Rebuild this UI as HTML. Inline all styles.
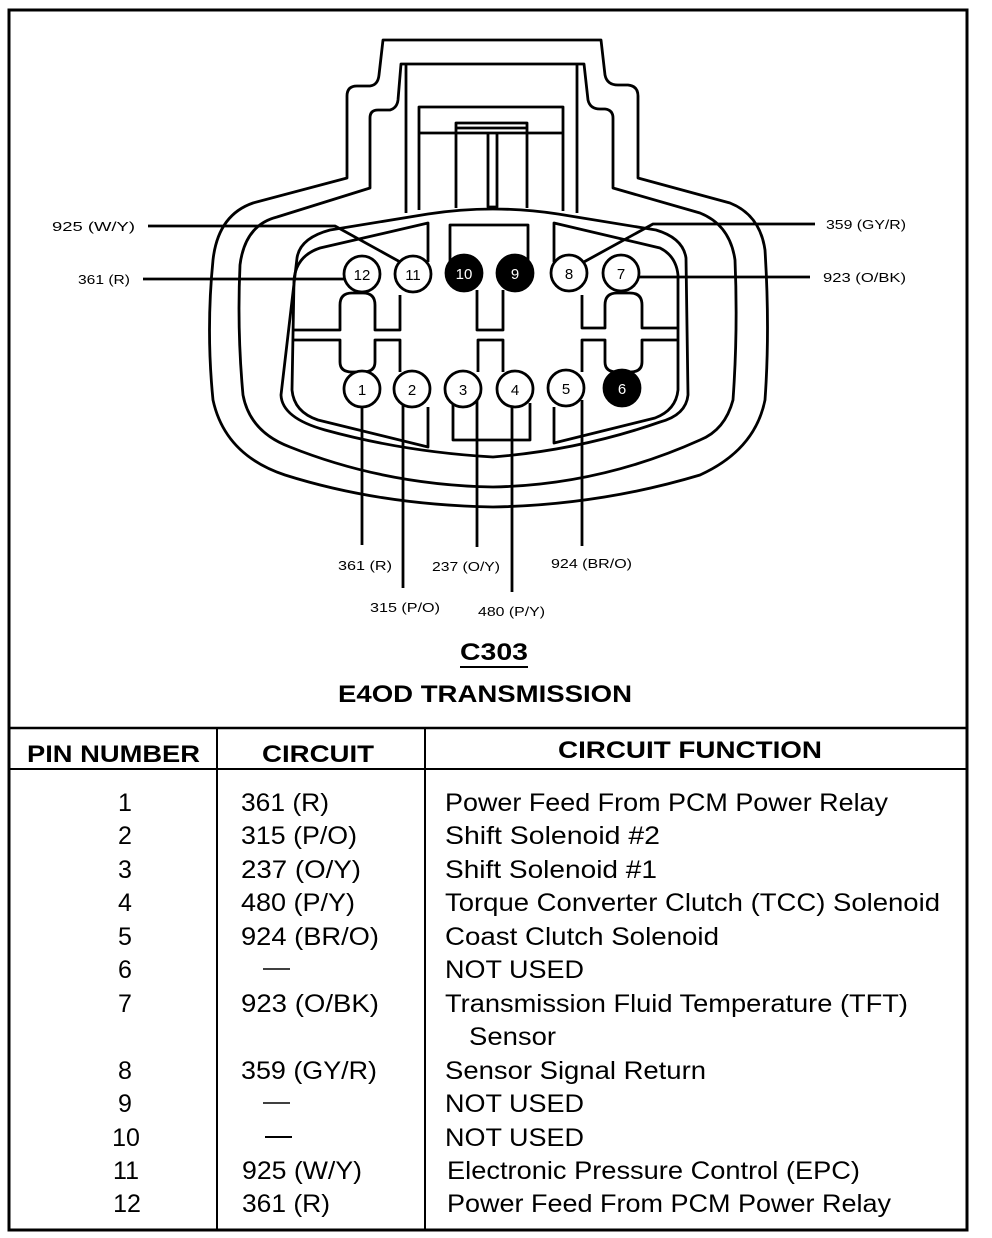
<!DOCTYPE html>
<html><head><meta charset="utf-8"><style>
html,body{margin:0;padding:0;background:#fff;}
svg{display:block;}
text{font-family:"Liberation Sans",sans-serif;fill:#000;}
</style></head><body>
<svg width="992" height="1238" viewBox="0 0 992 1238" xmlns="http://www.w3.org/2000/svg">
<rect x="0" y="0" width="992" height="1238" fill="#fff"/>
<rect x="9" y="10" width="958" height="1220" fill="none" stroke="#000" stroke-width="3"/>
<line x1="9" y1="728" x2="967" y2="728" stroke="#000" stroke-width="2.5"/>
<line x1="9" y1="769" x2="967" y2="769" stroke="#000" stroke-width="2"/>
<line x1="217" y1="728" x2="217" y2="1230" stroke="#000" stroke-width="2"/>
<line x1="425" y1="728" x2="425" y2="1230" stroke="#000" stroke-width="2"/>

<g fill="none" stroke="#000" stroke-width="2.8" stroke-linejoin="round">
<path d="M383,40 H601 L605,75 Q607,85 618,85 L628,85 Q638,86 638,96 L638,178 L730,203 Q760,215 765,250 Q770,330 765,400 Q755,450 700,475 Q600,505 493,507 Q380,505 285,475 Q225,455 213,400 Q206,330 213,260 Q218,215 253,203 L347,178 L347,96 Q347,86 357,86 L370,86 Q378,85 379,75 Z"/>
<path d="M401,64 H584 L588,100 Q590,109 600,109 L605,109 Q613,110 613,118 L613,188 L700,213 Q730,225 735,260 Q738,330 733,400 Q725,430 700,440 Q600,485 493,487 Q385,485 290,447 Q250,432 243,395 Q237,330 240,265 Q245,225 277,217 L370,188 L370,118 Q370,110 378,110 L390,110 Q397,108 398,100 Z"/>
<line x1="406" y1="64" x2="406" y2="213"/>
<line x1="577" y1="64" x2="577" y2="213"/>
<path d="M419,210 V107 H563 V211"/>
<line x1="419" y1="133" x2="563" y2="133"/>
<path d="M456,208 V123 H527 V208"/>
<line x1="456" y1="128" x2="527" y2="128"/>
<path d="M488,133 V207 H497 V133"/>
<path d="M297,258 Q300,238 330,230 L428,214 Q493,204 558,214 L656,230 Q683,238 686,258 L688,395 Q686,415 660,422 Q580,450 493,457 Q405,452 325,430 Q282,418 281,395 Z"/>
<path d="M428,262 L428,223 L320,248 Q296,256 294,280 L292,390 Q294,412 318,420 L428,447 L428,407"/>
<path d="M554,262 L554,223 L660,248 Q676,256 678,275 L678,390 Q676,410 655,418 L554,443 L554,407"/>
<path d="M450,262 L450,225 L528,225 L528,262"/>
<path d="M453,403 L453,440 L530,440 L530,403"/>
<path d="M292,330 H340 V305 Q340,293 352,293 H363 Q375,293 375,305 V330 H400 V295"/>
<path d="M292,340 H340 V362 Q340,372 352,372 H363 Q375,372 375,362 V340 H400 V372"/>
<path d="M477,290 V330 H503 V290"/>
<path d="M478,372 V340 H503 V372"/>
<path d="M582,295 V328 H605 V305 Q605,293 617,293 H630 Q642,293 642,305 V328 H678"/>
<path d="M582,372 V340 H605 V362 Q605,372 617,372 H630 Q642,372 642,362 V340 H678"/>
<line x1="362" y1="407" x2="362" y2="545"/>
<line x1="403" y1="404" x2="403" y2="588"/>
<line x1="477" y1="400" x2="477" y2="547"/>
<line x1="512" y1="407" x2="512" y2="592"/>
<line x1="582" y1="400" x2="582" y2="546"/>
<path d="M148,226 H335 L402,263"/>
<line x1="143" y1="279" x2="344" y2="279"/>
<path d="M815,224 H653 L582,263"/>
<line x1="637" y1="277" x2="810" y2="277"/>
</g>
<g stroke="#000" stroke-width="2.8">
<circle cx="362" cy="274" r="18" fill="#fff"/>
<circle cx="413" cy="274" r="18" fill="#fff"/>
<circle cx="464" cy="273" r="18" fill="#000"/>
<circle cx="515" cy="273" r="18" fill="#000"/>
<circle cx="569" cy="273" r="18" fill="#fff"/>
<circle cx="621" cy="273" r="18" fill="#fff"/>
<circle cx="362" cy="389" r="18" fill="#fff"/>
<circle cx="412" cy="389" r="18" fill="#fff"/>
<circle cx="463" cy="389" r="18" fill="#fff"/>
<circle cx="515" cy="389" r="18" fill="#fff"/>
<circle cx="566" cy="388" r="18" fill="#fff"/>
<circle cx="622" cy="388" r="18" fill="#000"/>
</g>
<g font-size="15" text-anchor="middle">
<text x="362" y="280">12</text><text x="413" y="280">11</text>
<text x="464" y="279" style="fill:#fff">10</text><text x="515" y="279" style="fill:#fff">9</text>
<text x="569" y="279">8</text><text x="621" y="279">7</text>
<text x="362" y="395">1</text><text x="412" y="395">2</text><text x="463" y="395">3</text>
<text x="515" y="395">4</text><text x="566" y="394">5</text><text x="622" y="394" style="fill:#fff">6</text>
</g>
<g font-size="13">
<text x="52" y="231" textLength="83" lengthAdjust="spacingAndGlyphs">925 (W/Y)</text>
<text x="78" y="284" textLength="52" lengthAdjust="spacingAndGlyphs">361 (R)</text>
<text x="826" y="229" textLength="80" lengthAdjust="spacingAndGlyphs">359 (GY/R)</text>
<text x="823" y="282" textLength="83" lengthAdjust="spacingAndGlyphs">923 (O/BK)</text>
<text x="338" y="570" textLength="54" lengthAdjust="spacingAndGlyphs">361 (R)</text>
<text x="370" y="612" textLength="70" lengthAdjust="spacingAndGlyphs">315 (P/O)</text>
<text x="432" y="571" textLength="68" lengthAdjust="spacingAndGlyphs">237 (O/Y)</text>
<text x="478" y="616" textLength="67" lengthAdjust="spacingAndGlyphs">480 (P/Y)</text>
<text x="551" y="568" textLength="81" lengthAdjust="spacingAndGlyphs">924 (BR/O)</text>
</g>
<g font-weight="bold" font-size="24">
<text x="460" y="660" textLength="68" lengthAdjust="spacingAndGlyphs">C303</text>
<text x="338" y="702" textLength="294" lengthAdjust="spacingAndGlyphs">E4OD TRANSMISSION</text>
<text x="27" y="762" textLength="173" lengthAdjust="spacingAndGlyphs">PIN NUMBER</text>
<text x="262" y="762" textLength="112" lengthAdjust="spacingAndGlyphs">CIRCUIT</text>
<text x="558" y="758" textLength="264" lengthAdjust="spacingAndGlyphs">CIRCUIT FUNCTION</text>
</g>
<line x1="460" y1="667" x2="528" y2="667" stroke="#000" stroke-width="2"/>
<g font-size="25">
<g text-anchor="middle">
<text x="125" y="811">1</text><text x="125" y="844">2</text><text x="125" y="878">3</text>
<text x="125" y="911">4</text><text x="125" y="945">5</text><text x="125" y="978">6</text>
<text x="125" y="1012">7</text><text x="125" y="1079">8</text><text x="125" y="1112">9</text>
<text x="126" y="1146">10</text><text x="126" y="1179">11</text><text x="127" y="1212">12</text>
</g>
<text x="241" y="811" textLength="88" lengthAdjust="spacingAndGlyphs">361 (R)</text>
<text x="241" y="844" textLength="116" lengthAdjust="spacingAndGlyphs">315 (P/O)</text>
<text x="241" y="878" textLength="120" lengthAdjust="spacingAndGlyphs">237 (O/Y)</text>
<text x="241" y="911" textLength="114" lengthAdjust="spacingAndGlyphs">480 (P/Y)</text>
<text x="241" y="945" textLength="138" lengthAdjust="spacingAndGlyphs">924 (BR/O)</text>
<line x1="263" y1="969" x2="290" y2="969" stroke="#000" stroke-width="1.5"/>
<text x="241" y="1012" textLength="138" lengthAdjust="spacingAndGlyphs">923 (O/BK)</text>
<text x="241" y="1079" textLength="136" lengthAdjust="spacingAndGlyphs">359 (GY/R)</text>
<line x1="263" y1="1103" x2="290" y2="1103" stroke="#000" stroke-width="1.5"/>
<line x1="265" y1="1137" x2="292" y2="1137" stroke="#000" stroke-width="2"/>
<text x="242" y="1179" textLength="120" lengthAdjust="spacingAndGlyphs">925 (W/Y)</text>
<text x="242" y="1212" textLength="88" lengthAdjust="spacingAndGlyphs">361 (R)</text>

<text x="445" y="811" textLength="443" lengthAdjust="spacingAndGlyphs">Power Feed From PCM Power Relay</text>
<text x="445" y="844" textLength="215" lengthAdjust="spacingAndGlyphs">Shift Solenoid #2</text>
<text x="445" y="878" textLength="212" lengthAdjust="spacingAndGlyphs">Shift Solenoid #1</text>
<text x="445" y="911" textLength="495" lengthAdjust="spacingAndGlyphs">Torque Converter Clutch (TCC) Solenoid</text>
<text x="445" y="945" textLength="274" lengthAdjust="spacingAndGlyphs">Coast Clutch Solenoid</text>
<text x="445" y="978" textLength="139" lengthAdjust="spacingAndGlyphs">NOT USED</text>
<text x="445" y="1012" textLength="463" lengthAdjust="spacingAndGlyphs">Transmission Fluid Temperature (TFT)</text>
<text x="469" y="1045" textLength="87" lengthAdjust="spacingAndGlyphs">Sensor</text>
<text x="445" y="1079" textLength="261" lengthAdjust="spacingAndGlyphs">Sensor Signal Return</text>
<text x="445" y="1112" textLength="139" lengthAdjust="spacingAndGlyphs">NOT USED</text>
<text x="445" y="1146" textLength="139" lengthAdjust="spacingAndGlyphs">NOT USED</text>
<text x="447" y="1179" textLength="413" lengthAdjust="spacingAndGlyphs">Electronic Pressure Control (EPC)</text>
<text x="447" y="1212" textLength="444" lengthAdjust="spacingAndGlyphs">Power Feed From PCM Power Relay</text>
</g>
</svg>
</body></html>
